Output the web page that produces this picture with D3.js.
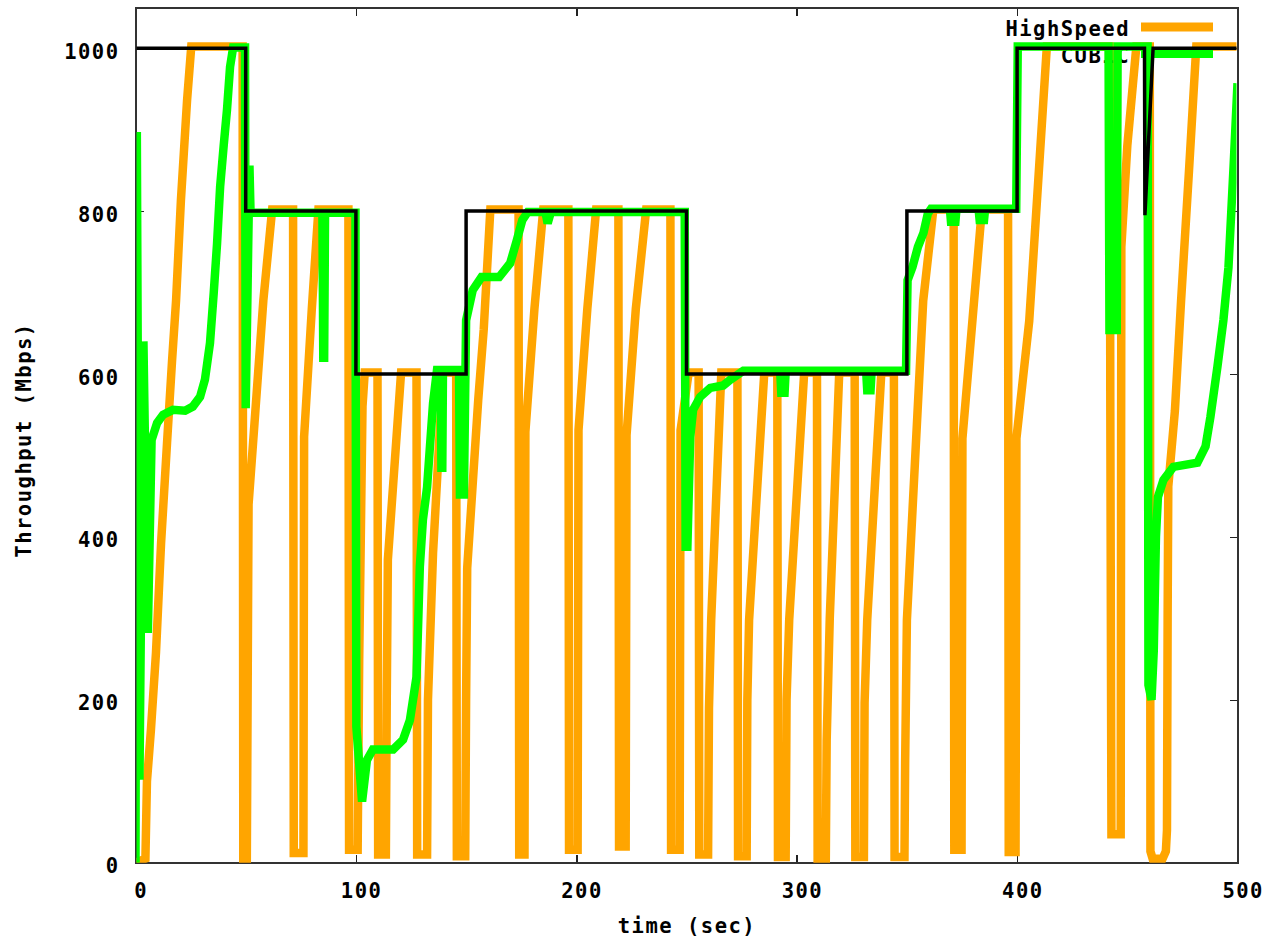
<!DOCTYPE html>
<html><head><meta charset="utf-8">
<script src="https://cdn.jsdelivr.net/npm/d3@7"></script>
<style>html,body{margin:0;padding:0;background:#fff;} svg{display:block}</style>
</head><body>
<svg id="chart" width="1265" height="940"></svg>
<script>
// ---------- data ----------
const xTicks = [0, 100, 200, 300, 400, 500];
const yTicks = [0, 200, 400, 600, 800, 1000];
const seriesNames = ["HighSpeed", "CUBIC"];
const xTitle = "time (sec)";
const yTitle = "Throughput (Mbps)";

// HighSpeed throughput [time, Mbps]
const highspeed = [
  [0,0],[4.5,5],[5.2,100],[7,163],[9.3,258],[11.6,392],[14.3,515],[16.6,617],[18.4,690],[20.6,813],[23.4,936],[25.3,1002],
  [48.6,1002],[48.9,0],[50.5,0],[51.3,440],[54,540],[58,690],[62,802],
  [71.5,802],[71.8,12],[76.2,12],[76.5,523],[80,680],[83,802],
  [96.6,802],[96.9,16],[100.8,16],[101.5,250],[103,560],[104,602],
  [109.8,602],[110.1,10],[113.6,10],[114,200],[114.5,372],[120.5,602],
  [127.5,602],[127.8,10],[132.3,10],[132.7,200],[135,380],[139.5,602],
  [145.5,602],[145.8,8],[149.6,8],[150,200],[150.5,362],[155.5,568],[158,655],[161,802],
  [173.8,802],[174.1,10],[176.5,10],[176.9,529],[181,680],[185,802],
  [196.4,802],[196.7,16],[200.6,16],[201,531],[205,680],[209,802],
  [219.1,802],[219.4,20],[222.4,20],[222.8,525],[227,680],[231.7,802],
  [242.7,802],[243,16],[246.9,16],[247.3,531],[251,602],
  [255.5,602],[255.8,10],[259.8,10],[260.2,190],[261.2,298],[265.8,602],
  [273.1,602],[273.4,8],[277.3,8],[277.6,200],[278.4,298],[285.3,602],
  [291.2,602],[291.5,7],[295,7],[295.4,200],[296.6,298],[303.4,602],
  [309.2,602],[309.5,2],[313.2,2],[313.6,150],[315,300],[319.3,602],
  [326.3,602],[326.6,7],[330.5,7],[330.8,196],[332,298],[338.4,602],
  [344.1,602],[344.4,7],[348.9,7],[349.2,123],[350,298],[357.4,690],[362,802],
  [371.2,802],[371.5,16],[374.8,16],[375.2,521],[384,802],
  [395.9,802],[396.2,13],[399.3,13],[399.7,521],[405.5,665],[413.5,1002],
  [442,1002],[442.3,550],[442.8,35],[447,35],[447.3,756],[450,880],[454.1,1002],
  [460.2,1002],[460.5,14],[461.5,5],[466,5],[467.5,14],[468,40],[468.3,300],[468.6,462],[471.6,555],[474.4,690],[478,850],[481.3,1002],[500,1002]
];

// CUBIC throughput [time, Mbps]
const cubic = [
  [0,0],[0.6,897],[1.8,102],[3.6,640],[5.6,282],[7.3,519],[9.8,540],[12.5,550],[17,556],[22.5,555],[26,560],[29.3,572],[31.5,593],[33.8,638],[35.5,700],[37,760],[38.4,830],[40,880],[41.5,924],[42.9,977],[44.3,1001],
  [49.7,1001],[50,558],[51.7,856],[52.2,798],
  [84.8,798],[85.2,620],[85.6,620],[86,798],
  [99.8,798],[100.2,167],[102.8,75],[105,126],[107.7,139],[116.9,139],[121.4,151],[124.5,175],[127.5,228],[128.3,298],[129,363],[130.4,421],[132.3,461],[133.6,511],[135,564],[136.8,605],
  [138.5,605],[138.8,485],[139.2,485],[139.5,605],
  [146.8,605],[147.2,452],[149,452],[149.5,560],[150,666],[153,703],[157,719],[165,719],[170,736],[173,764],[175.5,789],[178,799],
  [186,799],[187,785],[188.5,799],
  [249.2,799],[249.6,388],[250.4,388],[251.7,523],[253,556],[256.2,572],[260.8,583],[266.7,586],[269.9,593],[275.8,604],
  [292.5,604],[293,577],[294.5,577],[295,604],
  [331.5,604],[332,580],[333.5,580],[334,604],
  [349.6,604],[350.3,715],[352.5,731],[355,756],[357.5,773],[359.5,797],[361,803],
  [369.5,803],[370,787],[372,787],[372.5,803],
  [382.5,803],[383,789],[385,789],[385.5,803],
  [399.6,803],[400.3,1002],
  [441.5,1002],[441.9,654],[445.2,654],[445.6,1002],
  [459.2,1002],[459.6,218],[461,200],[462,260],[463,400],[463.9,449],[466.4,470],[470.9,486],[481.8,491],[485.5,511],[487.7,547],[490.9,609],[493.6,666],[495.9,731],[498.2,854],[500,957]
];

// bottleneck capacity [time, Mbps]
const capacity = [
  [0,1000],[50,1000],[50,800],[100,800],[100,600],[150,600],[150,800],[250,800],[250,600],
  [350,600],[350,800],[400,800],[400,1000],[457.8,1000],[458,795],[461.7,1000],[500,1000]
];

// ---------- layout ----------
const plot = {left: 135.5, right: 1237.5, top: 7.5, bottom: 862.7};
const FONT = "'DejaVu Sans Mono', monospace";
const FS = 20.5, LS = 1.5;

const svg = d3.select("#chart");
const x = d3.scaleLinear().domain([0, 500]).range([plot.left, plot.right]);
const y = d3.scaleLinear().domain([0, 1050]).range([plot.bottom, plot.top]);

function styleText(sel) {
  sel.attr("font-family", FONT).attr("font-size", FS).attr("font-weight", "bold")
     .attr("letter-spacing", LS).attr("fill", "#000");
}

// axes (ticks inward, mirrored)
const gB = svg.append("g").attr("transform", `translate(0,${plot.bottom})`)
  .call(d3.axisBottom(x).tickValues(xTicks).tickSizeInner(-8).tickSizeOuter(0).tickFormat(d3.format("d")));
gB.selectAll("text").attr("dy", null).attr("y", 35.3).attr("x", 5.2).call(styleText);
const gL = svg.append("g").attr("transform", `translate(${plot.left},0)`)
  .call(d3.axisLeft(y).tickValues(yTicks).tickSizeInner(-8).tickSizeOuter(0).tickFormat(d3.format("d")));
gL.selectAll("text").attr("dy", null).attr("y", 10).attr("x", -16).call(styleText);
const gT = svg.append("g").attr("transform", `translate(0,${plot.top})`)
  .call(d3.axisTop(x).tickValues(xTicks).tickSizeInner(-8).tickSizeOuter(0).tickFormat(""));
const gR = svg.append("g").attr("transform", `translate(${plot.right},0)`)
  .call(d3.axisRight(y).tickValues(yTicks).tickSizeInner(-8).tickSizeOuter(0).tickFormat(""));
[gB, gL, gT, gR].forEach(g => {
  g.select(".domain").remove();
  g.selectAll("line").attr("stroke", "#222").attr("stroke-width", 1.5).attr("shape-rendering", "crispEdges");
});

// border
svg.append("rect").attr("x", plot.left).attr("y", plot.top)
  .attr("width", plot.right - plot.left).attr("height", plot.bottom - plot.top)
  .attr("fill", "none").attr("stroke", "#333").attr("stroke-width", 2).attr("shape-rendering", "crispEdges");

// axis titles
svg.append("text").attr("x", (plot.left + plot.right) / 2 + 0.5).attr("y", 933)
  .attr("text-anchor", "middle").text(xTitle).call(styleText);
svg.append("text").attr("transform", "translate(31,440) rotate(-90)")
  .attr("text-anchor", "middle").text(yTitle).call(styleText);

// clip for data
svg.append("clipPath").attr("id", "clip").append("rect")
  .attr("x", plot.left + 1).attr("y", plot.top + 1)
  .attr("width", plot.right - plot.left - 2).attr("height", plot.bottom - plot.top - 1);

const line = d3.line().x(d => x(d[0])).y(d => y(d[1]));
const colors = ["#FFA500", "#00FF00"];
const datasets = [highspeed, cubic];
const legendY = [28.5, 55];

datasets.forEach((data, i) => {
  // legend entry (drawn before its data, like gnuplot)
  svg.append("text").attr("x", 1130).attr("y", legendY[i] + 7.5)
    .attr("text-anchor", "end").text(seriesNames[i]).call(styleText);
  svg.append("line").attr("x1", 1141).attr("x2", 1213)
    .attr("y1", legendY[i] - 1.5).attr("y2", legendY[i] - 1.5)
    .attr("stroke", colors[i]).attr("stroke-width", 9);
  svg.append("path").datum(data).attr("clip-path", "url(#clip)")
    .attr("d", line).attr("fill", "none").attr("stroke", colors[i])
    .attr("stroke-width", 8.5).attr("stroke-linejoin", "miter").attr("stroke-miterlimit", 3);
});

svg.append("path").datum(capacity).attr("clip-path", "url(#clip)")
  .attr("d", line).attr("fill", "none").attr("stroke", "#000")
  .attr("stroke-width", 3.5).attr("stroke-linejoin", "miter");
</script>
</body></html>
